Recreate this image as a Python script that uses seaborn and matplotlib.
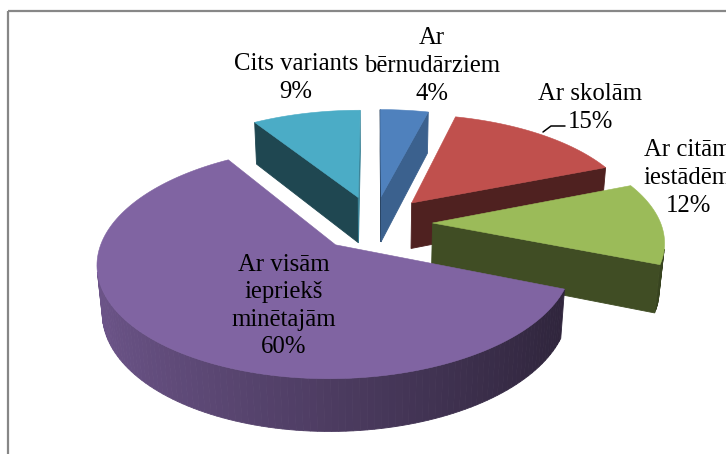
import numpy as np
import matplotlib
matplotlib.use("Agg")
import matplotlib.pyplot as plt
from matplotlib.patches import Polygon, Rectangle
from matplotlib.colors import to_rgb
import seaborn as sns

# data (clockwise from 12 o'clock)
categories = ["Ar\nbērnudārziem", "Ar skolām", "Ar citām\niestādēm",
              "Ar visām\niepriekš\nminētajām", "Cits variants"]
shares = [4, 15, 12, 60, 9]
colors = ["#4F81BD", "#C0504D", "#9BBB59", "#8064A2", "#4BACC6"]

sns.set_theme(style="white")
sns.set_palette(colors)
plt.rcParams['font.family'] = ['Liberation Serif', 'DejaVu Serif']

W, H = 726, 454
CX, CY = 374, 223      # pie centre, pixels
R = 228                # radius, pixels
ELEV = np.radians(28)  # camera tilt
DIST = 6.0             # camera distance (radii)
DEPTH = 0.235
EXPLODE = 0.257

# label anchors (pixel centre of each text block)
label_pos = [(432, 66), (590, 108), (688, 178), (284, 306), (296, 78)]


def project(X, Y, Z):
    yv = Y * np.cos(ELEV) + Z * np.sin(ELEV)
    zv = Z * np.cos(ELEV) - Y * np.sin(ELEV)
    s = DIST / (DIST + zv)
    return np.column_stack([CX + R * X * s, CY - R * yv * s]), zv


def area(pts):
    x, v = pts[:, 0], -pts[:, 1]
    return 0.5 * np.sum(x * np.roll(v, -1) - np.roll(x, -1) * v)


def shade(c, f):
    return tuple(np.clip(np.array(to_rgb(c)) * f, 0, 1))


fig = plt.figure(figsize=(W / 100, H / 100), dpi=100)
ax = fig.add_axes([0, 0, 1, 1])
ax.set_xlim(0, W)
ax.set_ylim(H, 0)
ax.axis('off')

pal = sns.color_palette(n_colors=len(shares))
edges = np.cumsum([0] + shares) / sum(shares) * 360

slices = []
for i in range(len(shares)):
    t0, t1 = edges[i], edges[i + 1]
    tm = np.radians((t0 + t1) / 2)
    ox, oz = EXPLODE * np.sin(tm), EXPLODE * np.cos(tm)
    slices.append((oz, i, t0, t1, ox))

z = 1
for oz, i, t0, t1, ox in sorted(slices, reverse=True):
    col = pal[i]
    n = max(int((t1 - t0) / 1.5), 3)
    a = np.radians(np.linspace(t0, t1, n))
    rx, rz = ox + np.sin(a), oz + np.cos(a)
    top, _ = project(rx, np.zeros(n), rz)
    bot, _ = project(rx, -DEPTH * np.ones(n), rz)
    ap_t, _ = project(np.array([ox]), np.array([0.0]), np.array([oz]))
    ap_b, _ = project(np.array([ox]), np.array([-DEPTH]), np.array([oz]))

    faces = []
    # outer wall
    for k in range(n - 1):
        q = np.array([top[k], top[k + 1], bot[k + 1], bot[k]])
        if area(q) > 0:
            th = (a[k] + a[k + 1]) / 2
            f = 0.60 - 0.25 * np.sin(th)
            faces.append((q, shade(col, f)))
    # cut faces
    for q, nrm in [(np.array([ap_t[0], top[0], bot[0], ap_b[0]]), t0 - 90),
                   (np.array([ap_t[0], ap_b[0], bot[-1], top[-1]]), t1 + 90)]:
        if area(q) > 0:
            f = np.interp(nrm % 360, [90, 115, 140, 360], [0.75, 0.75, 0.41, 0.41])
            faces.append((q, shade(col, f)))
    for q, fc in faces:
        ax.add_patch(Polygon(q, closed=True, facecolor=fc, edgecolor=fc,
                             lw=0.6, zorder=z))
    z += 1
    ax.add_patch(Polygon(np.vstack([ap_t, top]), closed=True, facecolor=col,
                         edgecolor=col, lw=0.4, zorder=z))
    z += 1

# labels
for i, (name, val) in enumerate(zip(categories, shares)):
    x, y = label_pos[i]
    ax.text(x, y, f"{name}\n{val}%", ha='center', va='center',
            multialignment='center', fontsize=17.8, linespacing=1.33,
            color='black', zorder=20)

# leader line for "Ar skolām"
ax.plot([543, 551, 565], [132, 126, 126], color='black', lw=1.1, zorder=20)

# chart area border
ax.add_patch(Rectangle((8, 11), 800, 520, fill=False, edgecolor='#878787',
                       lw=1.6, zorder=30))

fig.savefig("out.png", dpi=100)
